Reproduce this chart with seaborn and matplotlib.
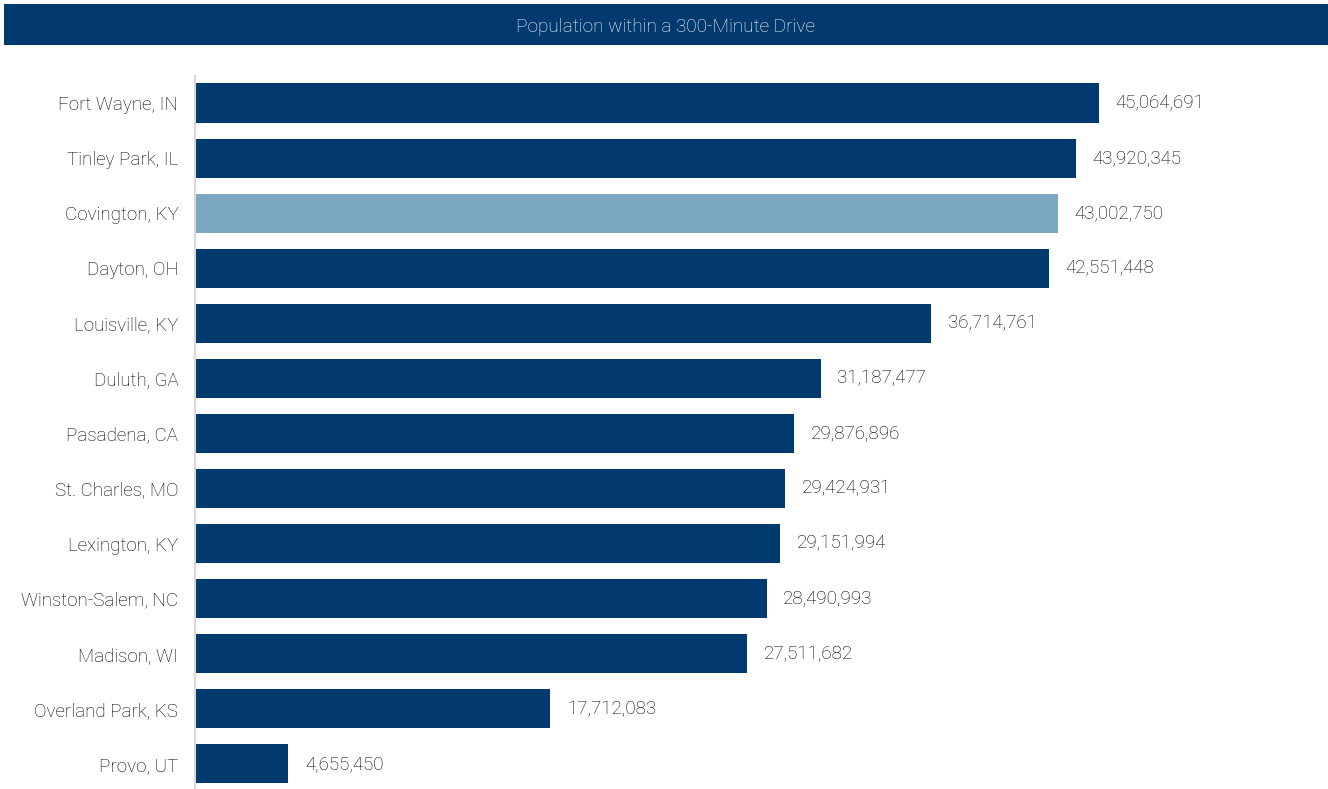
import matplotlib
matplotlib.use("Agg")
import matplotlib.pyplot as plt
import seaborn as sns
import pandas as pd
from matplotlib.patches import Rectangle

cities = ["Fort Wayne, IN", "Tinley Park, IL", "Covington, KY", "Dayton, OH",
          "Louisville, KY", "Duluth, GA", "Pasadena, CA", "St. Charles, MO",
          "Lexington, KY", "Winston-Salem, NC", "Madison, WI", "Overland Park, KS",
          "Provo, UT"]
population = [45064691, 43920345, 43002750, 42551448, 36714761, 31187477,
              29876896, 29424931, 29151994, 28490993, 27511682, 17712083, 4655450]
highlight = "Covington, KY"
title = "Population within a 300-Minute Drive"

NAVY = "#003a6e"
LIGHT = "#7ba7c0"
TEXT = "#000000"

sns.set_theme(style="white")
plt.rcParams["font.family"] = ["Roboto", "DejaVu Sans"]

df = pd.DataFrame({"city": cities, "pop": population})
colors = [LIGHT if c == highlight else NAVY for c in cities]

W, H = 1328, 789
fig = plt.figure(figsize=(W / 100, H / 100), dpi=100)
ax = fig.add_axes([195 / W, 0, 1 - 195 / W, 1 - 76 / H])

sns.barplot(data=df, y="city", x="pop", hue="city", palette=colors,
            legend=False, orient="h", width=0.71, ax=ax, saturation=1,
            edgecolor="none")

ax.set_xlim(0, 1133 / 20.06 * 1e6)
ax.set_ylim(len(cities) - 1 + 0.455, -0.49)
ax.set_xlabel("")
ax.set_ylabel("")
ax.set_xticks([])
for s in ["top", "right", "bottom"]:
    ax.spines[s].set_visible(False)
ax.spines["left"].set_color("#d9d9d9")
ax.spines["left"].set_linewidth(1.5)
ax.tick_params(axis="y", length=0, pad=12, labelsize=13.5, labelcolor=TEXT)
for lbl in ax.get_yticklabels():
    lbl.set_fontweight("light")

for cont in ax.containers:
    ax.bar_label(cont, labels=[f"{v:,.0f}" for v in cont.datavalues],
                 padding=12, fontsize=13.5, color=TEXT, fontweight="light")

fig.patches.append(Rectangle((4 / W, 1 - 45 / H), 1 - 4 / W, 41 / H,
                             transform=fig.transFigure, facecolor=NAVY,
                             edgecolor="none", zorder=0))
fig.text((4 + W) / 2 / W, 1 - 27 / H, title, ha="center", va="center",
         color="#ffffff", fontsize=13.7, fontweight="light")

fig.savefig("out.png", dpi=100)
